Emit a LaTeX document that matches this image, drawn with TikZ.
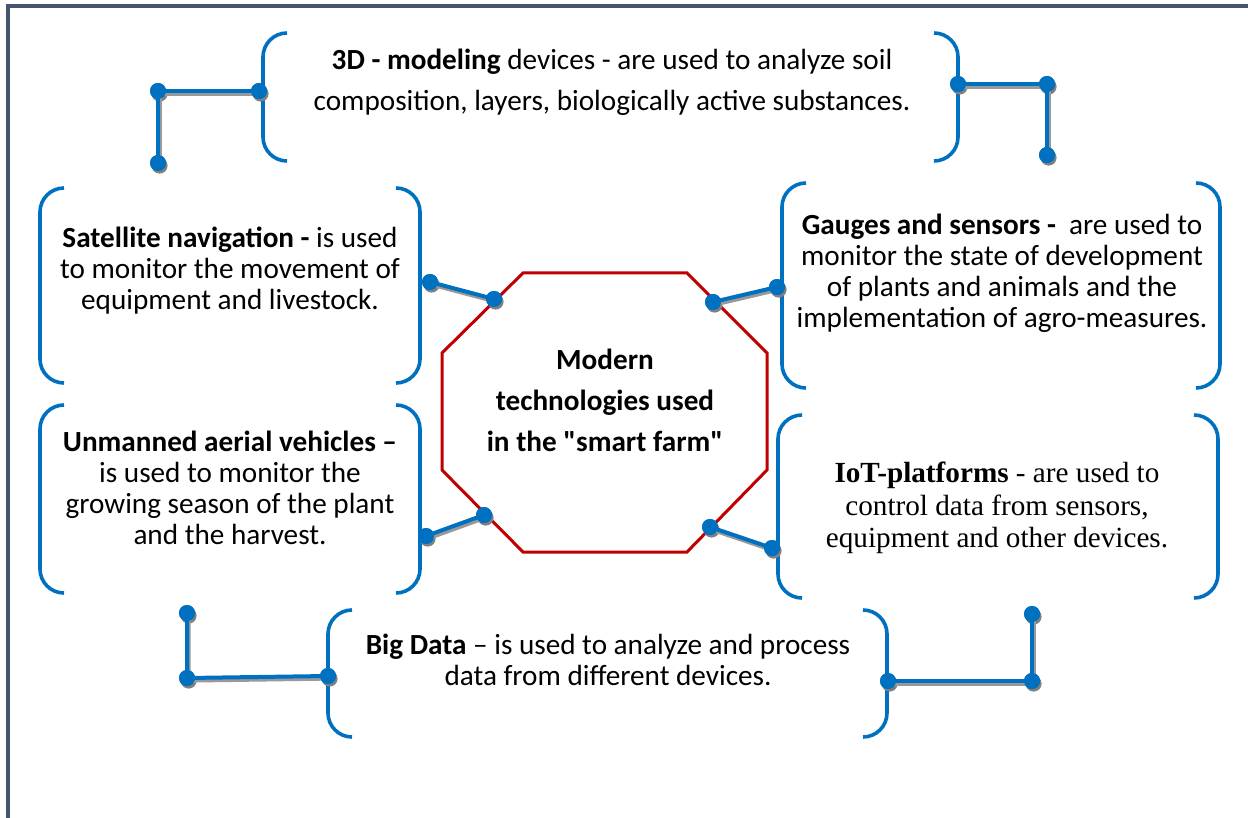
\documentclass[tikz,border=0pt]{standalone}
\usepackage{fontspec}
\setmainfont{Carlito}
\newfontfamily\serifface{Liberation Serif}
\usetikzlibrary{shadows}

\definecolor{linkblue}{RGB}{0,112,192}
\definecolor{octred}{RGB}{192,0,0}
\definecolor{frame}{RGB}{70,85,110}

\tikzset{
  txt/.style={align=center, inner sep=0pt, font=\fontsize{14.6}{15.5}\selectfont},
  brace/.style={draw=linkblue, line width=1.8pt, rounded corners=12pt},
  link/.style={draw=linkblue, line width=2pt,
    preaction={draw=black!40, line width=2pt, transform canvas={shift={(0.8pt,-1.3pt)}}}},
  dot/.style={circle, fill=linkblue, inner sep=0pt, minimum size=8pt,
    drop shadow={shadow xshift=0.8pt, shadow yshift=-1.3pt, fill=black!50, opacity=1}},
}

% two round brackets round a text block
\newcommand\bracketpair[4]{%
  \path[brace] (#1+24,#3) -- (#1,#3) -- (#1,#4) -- (#1+24,#4);
  \path[brace] (#2-24,#3) -- (#2,#3) -- (#2,#4) -- (#2-24,#4);
}

\begin{document}
\begin{tikzpicture}[x=0.5pt,y=-0.5pt]
\useasboundingbox (0,0) rectangle (1248,818);
\draw[frame, line width=1.6pt] (8,818) -- (8,6) -- (1248,6);

% central octagon
\draw[octred, line width=1.5pt]
  (523,273) -- (687,273) -- (767,353) -- (767,470) -- (687,552)
  -- (523,552) -- (442,470) -- (442,353) -- cycle;
\node[txt, font=\bfseries\fontsize{14.6}{20.5}\selectfont] (modern) at (605,400)
  {Modern\\ technologies used\\ in the {\addfontfeatures{Ligatures=TeXOff}"smart farm"}};

% brackets
\bracketpair{263}{958}{33}{161}
\bracketpair{40}{420}{188}{383}
\bracketpair{782}{1220}{183}{388}
\bracketpair{40}{420}{405}{593}
\bracketpair{778}{1218}{415}{598}
\bracketpair{328}{887}{610}{737}

% texts
\node[txt, font=\fontsize{14.6}{20.5}\selectfont] (modeling) at (612,82)
  {\textbf{3D - modeling} devices - are used to analyze soil\\
   composition, layers, biologically active substances.};
\node[txt] (satnav) at (230,271)
  {\textbf{Satellite navigation -} is used\\ to monitor the movement of\\
   equipment and livestock.};
\node[txt] (gauges) at (1002,273)
  {\textbf{Gauges and sensors -}\ \ are used to\\ monitor the state of development\\
   of plants and animals and the\\ implementation of agro-measures.};
\node[txt] (uav) at (230,488)
  {\textbf{Unmanned aerial vehicles --}\\ is used to monitor the\\
   growing season of the plant\\ and the harvest.};
\node[txt, font=\serifface\fontsize{14.6}{16.2}\selectfont] (iot) at (997,508)
  {\textbf{IoT-platforms} - are used to\\ control data from sensors,\\
   equipment and other devices.};
\node[txt] (bigdata) at (608,660)
  {\textbf{Big Data} -- is used to analyze and process\\ data from different devices.};

% connector dots
\node[dot] (tl1) at (158,163) {};
\node[dot] (tl2) at (158,91) {};
\node[dot] (tl3) at (259,91) {};
\node[dot] (tr1) at (958,84) {};
\node[dot] (tr2) at (1047,84) {};
\node[dot] (tr3) at (1047,155) {};
\node[dot] (sn1) at (430,282) {};
\node[dot] (sn2) at (494,299) {};
\node[dot] (gs1) at (713,302) {};
\node[dot] (gs2) at (777,287) {};
\node[dot] (uv1) at (426,536) {};
\node[dot] (uv2) at (484,515) {};
\node[dot] (it1) at (710,527) {};
\node[dot] (it2) at (772,548) {};
\node[dot] (bl1) at (187,613) {};
\node[dot] (bl2) at (187,678) {};
\node[dot] (bl3) at (328,676) {};
\node[dot] (br1) at (888,681) {};
\node[dot] (br2) at (1032,681) {};
\node[dot] (br3) at (1032,614) {};

% connectors
\path[link] (tl1.center) -- (tl2.center) -- (tl3.center);
\path[link] (tr1.center) -- (tr2.center) -- (tr3.center);
\path[link] (sn1.center) -- (sn2.center);
\path[link] (gs1.center) -- (gs2.center);
\path[link] (uv1.center) -- (uv2.center);
\path[link] (it1.center) -- (it2.center);
\path[link] (bl1.center) -- (bl2.center) -- (bl3.center);
\path[link] (br1.center) -- (br2.center) -- (br3.center);

% dots again on top of the lines
\foreach \d in {tl1,tl2,tl3,tr1,tr2,tr3,sn1,sn2,gs1,gs2,uv1,uv2,it1,it2,bl1,bl2,bl3,br1,br2,br3}
  \fill[linkblue] (\d) circle (4pt);
\end{tikzpicture}
\end{document}
